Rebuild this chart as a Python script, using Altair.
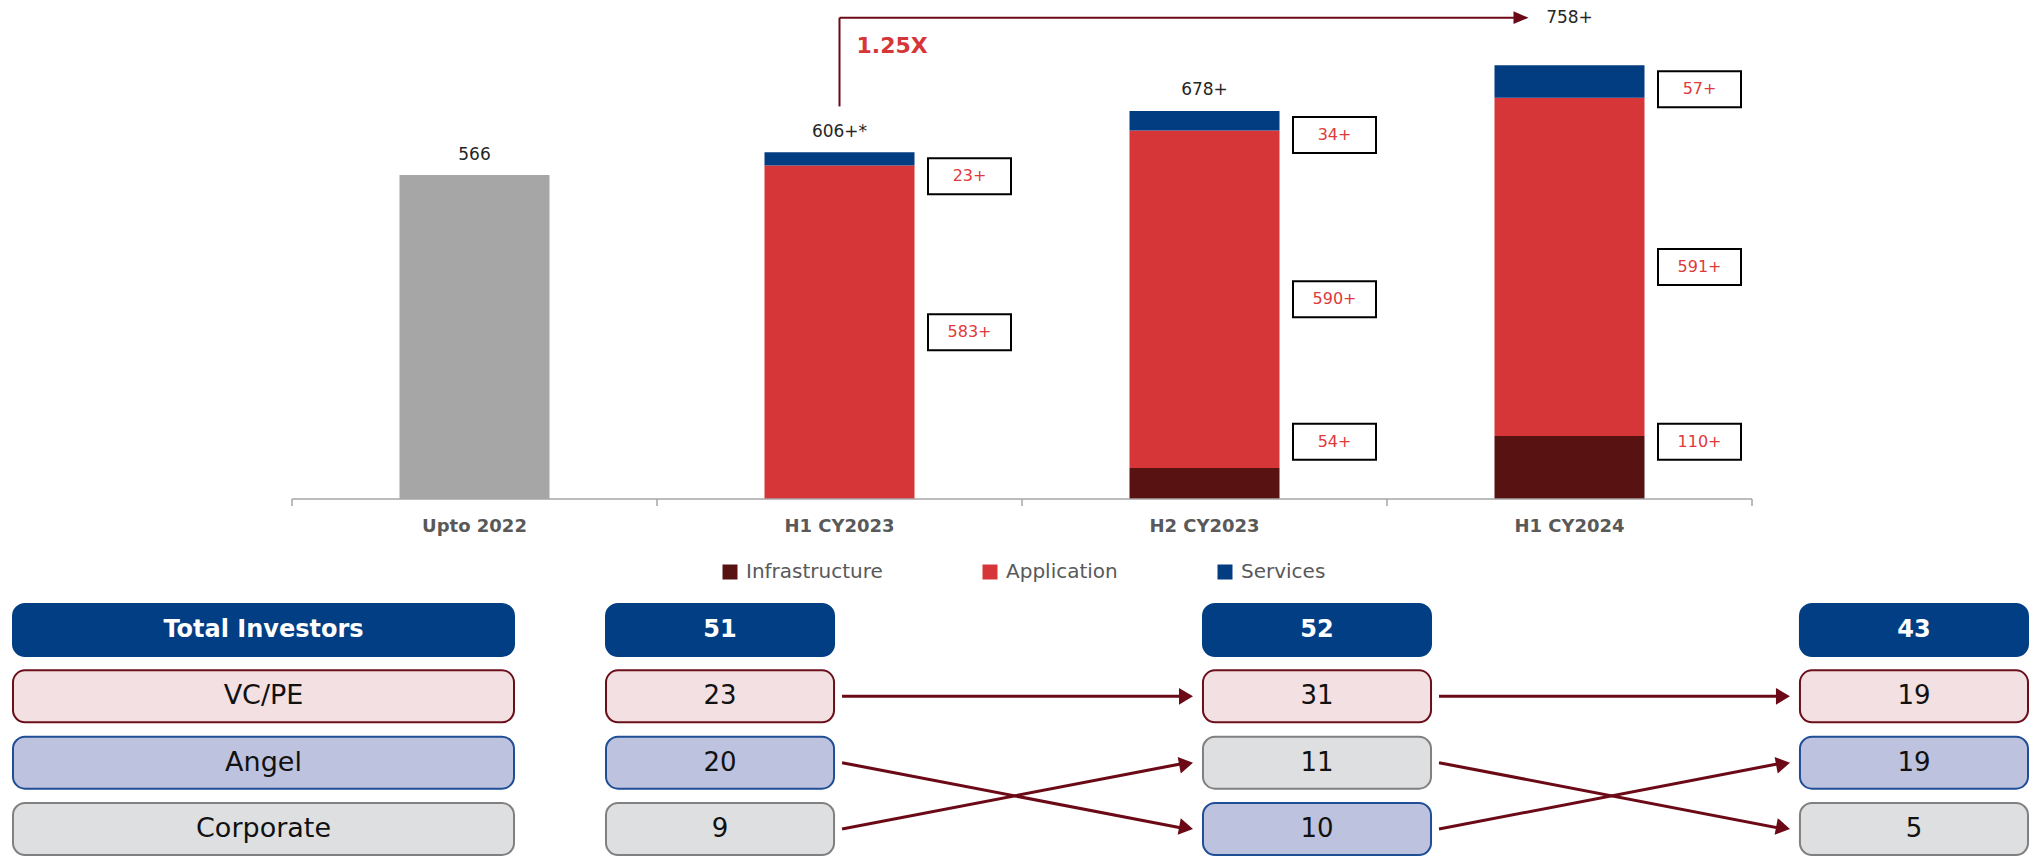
import math

import altair as alt
import pandas as pd

# ---------------------------------------------------------------- data
periods = ["Upto 2022", "H1 CY2023", "H2 CY2023", "H1 CY2024"]
segments = ["Infrastructure", "Application", "Services"]
cumulative = [566, None, None, None]          # unsplit count up to 2022
infrastructure = [None, None, 54, 110]
application = [None, 583, 590, 591]
services = [None, 23, 34, 57]
total_suffix = ["", "+*", "+", "+"]

investor_periods = ["H1 CY2023", "H2 CY2023", "H1 CY2024"]
investor_types = ["VC/PE", "Angel", "Corporate"]
total_investors = [51, 52, 43]
vc_pe = [23, 31, 19]
angel = [20, 10, 19]
corporate = [9, 11, 5]

# ---------------------------------------------------------------- style
FONT = "DejaVu Sans"
ARROW = "#6B0A16"
AXIS_GREY = "#A6A6A6"
SEG_DOMAIN = ["Infrastructure", "Application", "Services", "Total"]
SEG_RANGE = ["#581212", "#D63638", "#023D82", "#A6A6A6"]
KIND_DOMAIN = ["Total", "VC/PE", "Angel", "Corporate"]
KIND_FILL = ["#023E84", "#F2E0E2", "#BDC2DE", "#DEDFE1"]
KIND_STROKE = ["#023E84", "#6B0F1A", "#1F4E96", "#808080"]

# the plot area holds the bar panel; the table sits in the bottom padding
CANVAS_W, CANVAS_H = 2030, 856
BAR_LEFT, BAR_RIGHT = 292, 1752
BASELINE_PX = 499
Y_MAX = 872
BRACKET_LEVEL = 841
BOX_SHIFT = 130

# layout of the investor table
TABLE_TOP, TABLE_BOTTOM = 604, 855
ROW_PAD = 0.216
COL_LEFT, COL_RIGHT = 606, 2028
COL_PAD = 0.618
GAP_START, GAP_END = 8, 10
row_step = (TABLE_BOTTOM - TABLE_TOP) / (4 - ROW_PAD)
col_step = (COL_RIGHT - COL_LEFT) / (3 - COL_PAD)
col_band = col_step * (1 - COL_PAD)
arrow_run = col_step - col_band - GAP_START - GAP_END

# ---------------------------------------------------------------- frames
seg_series = [("Total", cumulative), ("Infrastructure", infrastructure),
              ("Application", application), ("Services", services)]
bar_rows = []
for i, p in enumerate(periods):
    for order, (seg, series) in enumerate(seg_series):
        if series[i] is not None:
            bar_rows.append({"period": p, "segment": seg, "value": series[i], "order": order})
bar_df = pd.DataFrame(bar_rows)

totals = [sum(v[i] for _, v in seg_series if v[i] is not None) for i in range(len(periods))]
totals_df = pd.DataFrame({"period": periods, "total": totals, "suffix": total_suffix})

bracket_df = pd.DataFrame({
    "start": [periods[1]],
    "end": [periods[-1]],
    "base": [totals[1]],
    "growth": [f"{totals[-1] / totals[1]:.2f}X"],
})

axis_df = pd.DataFrame({"first": [periods[0]], "last": [periods[-1]]})

# table cells: header row plus investor types ranked by count in each period
by_type = {"VC/PE": vc_pe, "Angel": angel, "Corporate": corporate}
cell_rows = []
slot_of = {}
for i, p in enumerate(investor_periods):
    cell_rows.append({"period": p, "slot": 0, "kind": "Total", "text": str(total_investors[i])})
    ranked = sorted(investor_types, key=lambda t: (-by_type[t][i], investor_types.index(t)))
    for r, t in enumerate(ranked, start=1):
        slot_of[(p, t)] = r
        cell_rows.append({"period": p, "slot": r, "kind": t, "text": str(by_type[t][i])})
cell_df = pd.DataFrame(cell_rows)

header_df = pd.DataFrame({
    "col": ["label"] * 4,
    "slot": [0, 1, 2, 3],
    "kind": KIND_DOMAIN,
    "text": ["Total Investors"] + investor_types,
})

arrow_rows = []
for t in investor_types:
    for a, b in zip(investor_periods[:-1], investor_periods[1:]):
        s0, s1 = slot_of[(a, t)], slot_of[(b, t)]
        ang = math.degrees(math.atan2((s1 - s0) * row_step, arrow_run)) % 360
        arrow_rows.append({"from_period": a, "to_period": b, "from_slot": s0,
                           "to_slot": s1, "angle": ang})
arrow_df = pd.DataFrame(arrow_rows)

# ---------------------------------------------------------------- stacked bars
x_bar_scale = alt.Scale(type="band", domain=periods, range=[BAR_LEFT, BAR_RIGHT],
                        paddingInner=0, paddingOuter=0)
y_bar_scale = alt.Scale(domain=[0, Y_MAX], range=[BASELINE_PX, 0], nice=False, zero=True)

legend = alt.Legend(
    values=segments, orient="none", legendX=720, legendY=562, direction="horizontal",
    title=None, symbolType="square", symbolSize=225, symbolStrokeWidth=0,
    labelFont=FONT, labelFontSize=20, labelColor="#595959", labelOffset=6,
    columnPadding=97, padding=0,
)


def bx(field="period", pos=0.5):
    return alt.X(f"{field}:N", scale=x_bar_scale, axis=None, bandPosition=pos)


def by(field):
    return alt.Y(f"{field}:Q", scale=y_bar_scale, axis=None)


bars = alt.Chart(bar_df).mark_bar(width=150).encode(
    x=bx(),
    y=alt.Y("value:Q", scale=y_bar_scale, stack="zero", axis=None),
    color=alt.Color("segment:N", scale=alt.Scale(domain=SEG_DOMAIN, range=SEG_RANGE), legend=legend),
    order=alt.Order("order:Q", sort="ascending"),
)

# category axis: baseline, band-edge ticks and bold labels
axis_base = alt.Chart(axis_df).transform_calculate(zero="0")
axis_line = axis_base.mark_rule(color=AXIS_GREY, strokeWidth=1.5).encode(
    x=bx("first", 0), x2=alt.X2("last:N", bandPosition=1), y=by("zero")
)
tick_base = alt.Chart(totals_df).transform_calculate(zero="0")
ticks = tick_base.mark_rule(color=AXIS_GREY, strokeWidth=1.5, y2Offset=7).encode(
    x=bx("period", 0), y=by("zero"), y2="zero:Q"
)
end_tick = axis_base.mark_rule(color=AXIS_GREY, strokeWidth=1.5, y2Offset=7).encode(
    x=bx("last", 1), y=by("zero"), y2="zero:Q"
)
axis_labels = tick_base.mark_text(
    font=FONT, fontSize=18, fontWeight="bold", color="#595959", baseline="middle", dy=28
).encode(x=bx(), y=by("zero"), text="period:N")

label_base = (
    alt.Chart(bar_df)
    .transform_filter("datum.segment != 'Total'")
    .transform_stack(as_=["y0", "y1"], stack="value", groupby=["period"],
                     sort=[alt.SortField("order", order="ascending")])
    .transform_joinaggregate(total="sum(value)", groupby=["period"])
    .transform_calculate(
        pos="min(max((datum.y0 + datum.y1) / 2, 100), datum.total - 42)",
        label="datum.value + '+'",
    )
)
seg_boxes = label_base.mark_point(
    shape="M-1,-0.434H1V0.434H-1Z", size=83 * 83, filled=True, fill="white",
    stroke="#000000", strokeWidth=2, opacity=1, xOffset=BOX_SHIFT,
).encode(x=bx(), y=by("pos"))
seg_text = label_base.mark_text(
    dx=BOX_SHIFT, font=FONT, fontSize=16, color="#E0393B", baseline="middle",
).encode(x=bx(), y=by("pos"), text="label:N")

total_text = (
    alt.Chart(totals_df)
    .transform_calculate(
        text="datum.total + datum.suffix",
        pos=f"datum.period == '{periods[-1]}' ? {BRACKET_LEVEL} : datum.total + 36",
    )
    .mark_text(font=FONT, fontSize=17, color="#262626", baseline="middle")
    .encode(x=bx(), y=by("pos"), text="text:N")
)

bracket_base = alt.Chart(bracket_df).transform_calculate(
    lo="datum.base + 80", hi=str(BRACKET_LEVEL), gy=str(BRACKET_LEVEL - 49)
)
bracket_v = bracket_base.mark_rule(color=ARROW, strokeWidth=2).encode(
    x=bx("start"), y=by("lo"), y2="hi:Q"
)
bracket_h = bracket_base.mark_rule(color=ARROW, strokeWidth=2, x2Offset=-48).encode(
    x=bx("start"), x2=alt.X2("end:N", bandPosition=0.5), y=by("hi")
)
bracket_head = bracket_base.mark_point(
    shape="M-2,-0.85L0,0L-2,0.85Z", size=225, filled=True, fill=ARROW,
    strokeWidth=0, opacity=1, xOffset=-41,
).encode(x=bx("end"), y=by("hi"))
growth_text = bracket_base.mark_text(
    align="left", dx=17, baseline="middle", font=FONT, fontSize=22,
    fontWeight="bold", color="#D63638",
).encode(x=bx("start"), y=by("gy"), text="growth:N")

bar_group = alt.layer(bars, axis_line, ticks, end_tick, axis_labels,
                      seg_boxes, seg_text, total_text,
                      bracket_v, bracket_h, bracket_head, growth_text)

# ---------------------------------------------------------------- investor table
slot_scale = alt.Scale(type="band", domain=[0, 1, 2, 3], range=[TABLE_TOP, TABLE_BOTTOM],
                       paddingInner=ROW_PAD, paddingOuter=0)
fill_enc = alt.Fill("kind:N", scale=alt.Scale(domain=KIND_DOMAIN, range=KIND_FILL), legend=None)
stroke_enc = alt.Stroke("kind:N", scale=alt.Scale(domain=KIND_DOMAIN, range=KIND_STROKE), legend=None)
ys = alt.Y("slot:O", scale=slot_scale, axis=None)

# row-label column
hx = alt.X("col:N", scale=alt.Scale(type="band", domain=["label"], range=[13, 514],
                                     paddingInner=0, paddingOuter=0), axis=None)
hdr = alt.Chart(header_df)
hdr_rect = hdr.mark_rect(cornerRadius=12, strokeWidth=2).encode(x=hx, y=ys, fill=fill_enc, stroke=stroke_enc)
hdr_title = hdr.transform_filter("datum.slot == 0").mark_text(
    font=FONT, fontSize=24, fontWeight="bold", color="white", baseline="middle"
).encode(x=hx, y=ys, text="text:N")
hdr_rows = hdr.transform_filter("datum.slot > 0").mark_text(
    font=FONT, fontSize=27, color="#111111", baseline="middle"
).encode(x=hx, y=ys, text="text:N")
header_group = alt.layer(hdr_rect, hdr_title, hdr_rows)

# period columns
period_scale = alt.Scale(type="band", domain=investor_periods, range=[COL_LEFT, COL_RIGHT],
                         paddingInner=COL_PAD, paddingOuter=0)
px = alt.X("period:N", scale=period_scale, axis=None)
cells = alt.Chart(cell_df)
cell_rect = cells.mark_rect(cornerRadius=12, strokeWidth=2).encode(x=px, y=ys, fill=fill_enc, stroke=stroke_enc)
cell_total = cells.transform_filter("datum.slot == 0").mark_text(
    font=FONT, fontSize=24, fontWeight="bold", color="white", baseline="middle"
).encode(x=px, y=ys, text="text:N")
cell_count = cells.transform_filter("datum.slot > 0").mark_text(
    font=FONT, fontSize=26, color="#111111", baseline="middle"
).encode(x=px, y=ys, text="text:N")

arrows = alt.Chart(arrow_df)
arrow_lines = arrows.mark_rule(color=ARROW, strokeWidth=3, xOffset=GAP_START, x2Offset=-GAP_END - 6).encode(
    x=alt.X("from_period:N", scale=period_scale, axis=None, bandPosition=1),
    x2=alt.X2("to_period:N", bandPosition=0),
    y=alt.Y("from_slot:O", scale=slot_scale, axis=None, bandPosition=0.5),
    y2=alt.Y2("to_slot:O", bandPosition=0.5),
)
arrow_heads = arrows.mark_point(
    shape="M-2,-1.2L0,0L-2,1.2Z", size=196, filled=True, fill=ARROW,
    strokeWidth=0, opacity=1, xOffset=-GAP_END,
).encode(
    x=alt.X("to_period:N", scale=period_scale, axis=None, bandPosition=0),
    y=alt.Y("to_slot:O", scale=slot_scale, axis=None, bandPosition=0.5),
    angle=alt.Angle("angle:Q", scale=None),
)
period_group = alt.layer(cell_rect, cell_total, cell_count, arrow_lines, arrow_heads)

# ---------------------------------------------------------------- assemble
chart = (
    alt.layer(bar_group, header_group, period_group)
    .resolve_scale(x="independent", y="independent", color="independent",
                   fill="independent", stroke="independent")
    .properties(
        width=CANVAS_W, height=BASELINE_PX,
        padding={"left": 0, "top": 0, "right": 0, "bottom": CANVAS_H - BASELINE_PX},
        autosize=alt.AutoSizeParams(type="none"), background="white",
    )
    .configure_view(stroke=None)
)

chart.save("out.html", embed_options={"renderer": "svg", "actions": False})
